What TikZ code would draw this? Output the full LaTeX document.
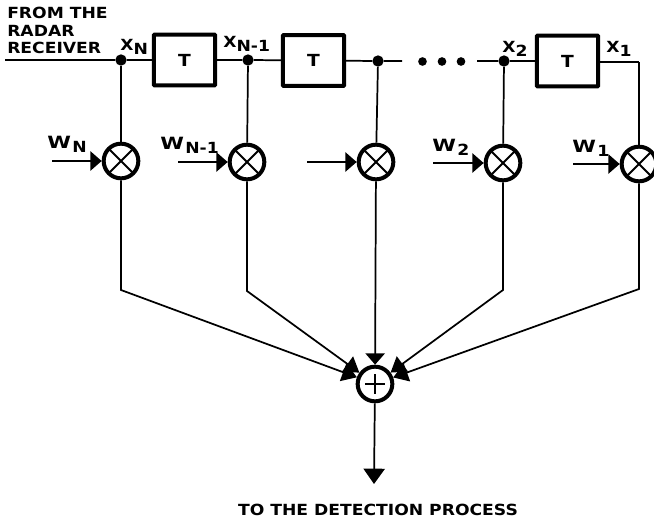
\documentclass[tikz,border=0pt]{standalone}
\usepackage{fontspec}
\usetikzlibrary{arrows.meta, calc}
\newfontfamily\letterfont[FakeStretch=1.12]{DejaVu Sans}
\newcommand{\subtext}[1]{\raisebox{-3pt}{#1}}
\newcommand{\wideW}{\scalebox{1.25}[1.1]{W}\kern1pt}
\tikzset{
    lettering/.style={font=\letterfont\bfseries\fontsize{11.5}{13.2}\selectfont, inner sep=0pt},
    wire/.style={line width=1.3pt},
    delaybox/.style={draw, line width=3pt, rounded corners=0.5pt, minimum width=46pt, minimum height=38pt,
          inner sep=0pt, font=\letterfont\bfseries\fontsize{12.5}{14}\selectfont},
    tapdot/.style={circle, fill=black, inner sep=0pt, minimum size=8.5pt},
    gapdot/.style={circle, fill=black, inner sep=0pt, minimum size=6.5pt},
    multnode/.style={circle, draw, line width=3pt, minimum size=26pt, inner sep=0pt,
          path picture={\draw[line width=1.5pt] (path picture bounding box.center) +(-14,-14) -- +(14,14) +(-14,14) -- +(14,-14);}},
    sumnode/.style={circle, draw, line width=3pt, minimum size=26pt, inner sep=0pt,
          path picture={\draw[line width=0.8pt] (path picture bounding box.center) +(-10,0) -- +(10,0) +(0,-10) -- +(0,10);}},
    headin/.style={wire, -{Triangle[length=8.5pt,width=14.5pt]}},
    headsum/.style={wire, -{Triangle[length=11pt,width=14pt]}},
    headout/.style={wire, -{Triangle[length=11.5pt,width=16pt]}}
}
\begin{document}
\begin{tikzpicture}[x=0.75pt, y=-0.75pt]
    \useasboundingbox (0,0) rectangle (654,525);

    % Delay line
    \coordinate (IN) at (5,60);
    \node[tapdot] (JN) at (121,60) {};
    \node[delaybox] (T1) at (184.5,60) {T};
    \node[tapdot] (JM) at (248,60) {};
    \node[delaybox] (T2) at (313.5,60.5) {T};
    \node[tapdot] (JC) at (378,61) {};
    \coordinate (GL) at (402,61);
    \node[gapdot] (D1) at (422.5,61.5) {};
    \node[gapdot] (D2) at (442,61.5) {};
    \node[gapdot] (D3) at (461,61.5) {};
    \coordinate (GR) at (477,61);
    \node[tapdot] (J2) at (504,61) {};
    \node[delaybox] (T3) at (567.5,61) {T};
    \coordinate (CR) at (639,62);

    \draw[wire] (IN) -- (JN) -- (T1) -- (JM) -- (T2) -- (JC) -- (GL);
    \draw[wire] (GR) -- (J2) -- (T3.west);
    \draw[wire] (T3.east |- CR) -- (CR);

    % Multipliers
    \node[multnode] (M1) at (121,161) {};
    \node[multnode] (M2) at (247,162) {};
    \node[multnode] (M3) at (376,162) {};
    \node[multnode] (M4) at (503,163) {};
    \node[multnode] (M5) at (639,164) {};

    \draw[wire] (JN) -- (M1);
    \draw[wire] (JM) -- (M2);
    \draw[wire] (JC) -- (M3);
    \draw[wire] (J2) -- (M4);
    \draw[wire] (CR) -- (M5);

    % Weight inputs
    \coordinate (W1) at (52,161);
    \coordinate (W2) at (178,162);
    \coordinate (W3) at (307,162);
    \coordinate (W4) at (433,163);
    \coordinate (W5) at (573,164);
    \draw[headin] (W1) -- (M1);
    \draw[headin] (W2) -- (M2);
    \draw[headin] (W3) -- (M3);
    \draw[headin] (W4) -- (M4);
    \draw[headin] (W5) -- (M5);

    % Summing node
    \node[sumnode] (SUM) at (375,384) {};
    \coordinate (B1) at (121,290);
    \coordinate (B2) at (247,291);
    \coordinate (B4) at (503,290);
    \coordinate (B5) at (639,289);
    \draw[headsum] (M1) -- (B1) -- (SUM);
    \draw[headsum] (M2) -- (B2) -- (SUM);
    \draw[headin] (M3) -- (SUM);
    \draw[headsum] (M4) -- (B4) -- (SUM);
    \draw[headsum] (M5) -- (B5) -- (SUM);

    % Output
    \coordinate (OUT) at (374,484);
    \draw[headout] (SUM) -- (OUT);

    % Labels
    \node[lettering, align=left, anchor=north west] (RX) at (7,7) {FROM THE\\RADAR\\RECEIVER};
    \node[lettering, anchor=base west] (LXN) at (120,50) {X\subtext{N}};
    \node[lettering, anchor=base west] (LXM) at (223,47) {X\subtext{N-1}};
    \node[lettering, anchor=base west] (LX2) at (502,52) {X\subtext{2}};
    \node[lettering, anchor=base west] (LX1) at (606,52) {X\subtext{1}};
    \node[lettering, anchor=base west] (LWN) at (47,148) {\wideW\subtext{N}};
    \node[lettering, anchor=base west] (LWM) at (160,149) {\wideW\subtext{N-1}};
    \node[lettering, anchor=base west] (LW2) at (432,151) {\wideW\subtext{2}};
    \node[lettering, anchor=base west] (LW1) at (572,152) {\wideW\subtext{1}};
    \node[lettering] (DET) at (378,510) {TO THE DETECTION PROCESS};
\end{tikzpicture}
\end{document}
